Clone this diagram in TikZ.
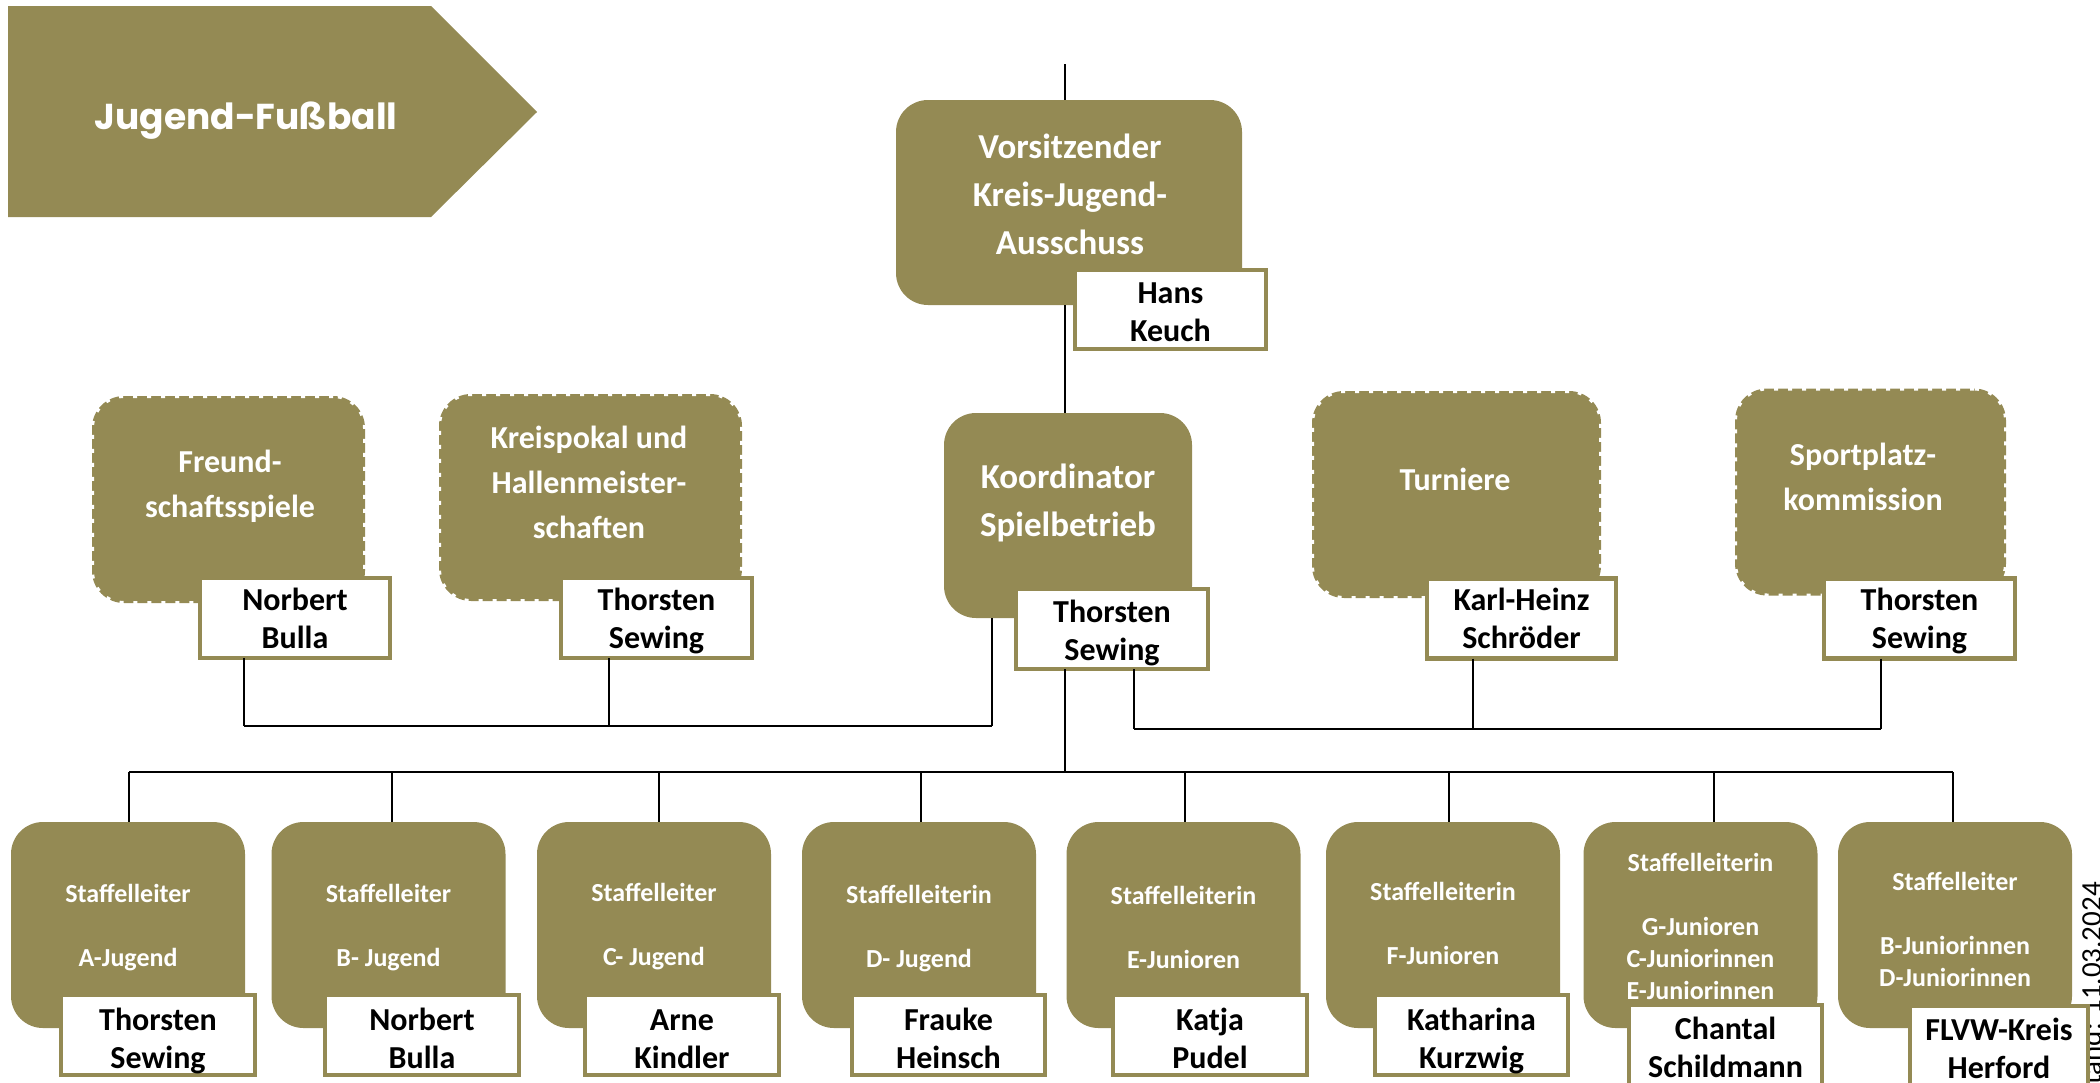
\documentclass[tikz,border=0pt]{standalone}
\usepackage{fontspec}
\setmainfont{Carlito}
\newfontfamily\titlefont{Poppins}
\definecolor{oliv}{HTML}{948A54}
\newcommand{\mlines}[1]{\begin{tabular}[t]{@{}c@{}}#1\end{tabular}}
\begin{document}
\begin{tikzpicture}[x=1pt,y=-1pt,
 obox/.style={fill=oliv, rounded corners=32pt, inner sep=0pt, outer sep=0pt},
 dbox/.style={obox, draw=white, line width=4pt, dash pattern=on 4pt off 10pt},
 nbox/.style={fill=white, draw=oliv, line width=4.5pt, inner sep=0pt, outer sep=0pt},
 wbig/.style={text=white, anchor=base, inner sep=0pt, font=\bfseries\fontsize{35}{48}\selectfont},
 wmid/.style={text=white, anchor=base, inner sep=0pt, font=\bfseries\fontsize{32}{45}\selectfont},
 wsmall/.style={text=white, anchor=base, inner sep=0pt, font=\bfseries\fontsize{26}{32}\selectfont},
 ntxt/.style={text=black, anchor=base, inner sep=0pt, font=\bfseries\fontsize{32}{38}\selectfont},
 conn/.style={line width=2pt, black},
 bar/.style={line width=2.8pt, black}]
\useasboundingbox (0,0) rectangle (2100,1082);

% title arrow
\fill[oliv] (8,6) -- (431,6) -- (537,112) -- (431,217) -- (8,217) -- cycle;
\node[anchor=base, inner sep=0pt, text=white, font=\titlefont\bfseries\fontsize{36}{42}\selectfont] (title) at (246,129) {Jugend-Fußball};

% upper boxes
\node[obox, minimum width=346pt, minimum height=205pt] (vors) at (1069,202.5) {};
\node[obox, minimum width=248pt, minimum height=205pt] (koord) at (1068,515.5) {};
\node[dbox, minimum width=273pt, minimum height=207pt] (freund) at (228.5,499.5) {};
\node[dbox, minimum width=303pt, minimum height=207pt] (pokal) at (590.5,497.5) {};
\node[dbox, minimum width=289pt, minimum height=207pt] (turn) at (1456.5,494.5) {};
\node[dbox, minimum width=271pt, minimum height=207pt] (sport) at (1870.5,492) {};

\node[wbig] (tvors) at (1070,158) {\mlines{Vorsitzender\\Kreis-Jugend-\\Ausschuss}};
\node[wbig] (tkoord) at (1068,488) {\mlines{Koordinator\\Spielbetrieb}};
\node[wmid] (tfreund) at (230,472) {\mlines{Freund-\\schaftsspiele}};
\node[wmid] (tpokal) at (589,448) {\mlines{Kreispokal und\\Hallenmeister-\\schaften}};
\node[wmid] (tturn) at (1455,490) {Turniere};
\node[wmid] (tsport) at (1863,465) {\mlines{Sportplatz-\\kommission}};

% upper name boxes
\node[nbox, minimum width=191pt, minimum height=79pt] (nhans) at (1170.5,309.5) {};
\node[nbox, minimum width=192pt, minimum height=80pt] (nkoord) at (1112,629) {};
\node[nbox, minimum width=190pt, minimum height=80pt] (nfreund) at (295,618) {};
\node[nbox, minimum width=191pt, minimum height=80pt] (npokal) at (656.5,618) {};
\node[nbox, minimum width=189pt, minimum height=80pt] (nturn) at (1521.5,618.5) {};
\node[nbox, minimum width=191pt, minimum height=80pt] (nsport) at (1919.5,618.5) {};

\node[ntxt] (thans) at (1170.5,303) {\mlines{Hans\\Keuch}};
\node[ntxt] (tnkoord) at (1112,622) {\mlines{Thorsten\\Sewing}};
\node[ntxt] (tnfreund) at (295,610) {\mlines{Norbert\\Bulla}};
\node[ntxt] (tnpokal) at (656.5,610) {\mlines{Thorsten\\Sewing}};
\node[ntxt] (tnturn) at (1521.5,610) {\mlines{Karl-Heinz\\Schröder}};
\node[ntxt] (tnsport) at (1919.5,610) {\mlines{Thorsten\\Sewing}};

% connectors upper part
\coordinate (topend) at (1065,64);
\draw[conn] (topend) -- (topend |- vors.north);
\draw[conn] (topend |- vors.south) -- (topend |- koord.north);

\coordinate (lb1) at (244,726);
\coordinate (lb2) at (609,726);
\coordinate (lb3) at (992,726);
\draw[conn] (lb1 |- nfreund.south) -- (lb1);
\draw[conn] (lb2 |- npokal.south) -- (lb2);
\draw[conn] (lb3 |- koord.south) -- (lb3);
\draw[bar] (lb1) -- (lb3);

\coordinate (rb1) at (1134,729);
\coordinate (rb2) at (1473,729);
\coordinate (rb3) at (1881,729);
\draw[conn] (rb1 |- nkoord.south) -- (rb1);
\draw[conn] (rb2 |- nturn.south) -- (rb2);
\draw[conn] (rb3 |- nsport.south) -- (rb3);
\draw[bar] (rb1) -- (rb3);

% bottom row boxes
\foreach \c/\n in {128/s1,388.5/s2,654/s3,919/s4,1183.5/s5,1443/s6,1700.5/s7,1955/s8}{
  \node[obox, minimum width=234pt, minimum height=206pt] (\n) at (\c,925) {};
}
\node[wsmall] (ts1) at (128,902) {\mlines{Staffelleiter\\ \\A-Jugend}};
\node[wsmall] (ts2) at (388.5,902) {\mlines{Staffelleiter\\ \\B- Jugend}};
\node[wsmall] (ts3) at (654,901) {\mlines{Staffelleiter\\ \\C- Jugend}};
\node[wsmall] (ts4) at (919,903) {\mlines{Staffelleiterin\\ \\D- Jugend}};
\node[wsmall] (ts5) at (1183.5,904) {\mlines{Staffelleiterin\\ \\E-Junioren}};
\node[wsmall] (ts6) at (1443,900) {\mlines{Staffelleiterin\\ \\F-Junioren}};
\node[wsmall] (ts7) at (1700.5,871) {\mlines{Staffelleiterin\\ \\G-Junioren\\C-Juniorinnen\\E-Juniorinnen}};
\node[wsmall] (ts8) at (1955,890) {\mlines{Staffelleiter\\ \\B-Juniorinnen\\D-Juniorinnen}};

% date text (partly covered)
\node[rotate=90, anchor=base east, inner sep=0pt, font=\fontsize{29}{32}\selectfont] (date) at (2101,882) {Stand: 11.03.2024};

% bottom name boxes
\node[nbox, minimum width=194pt, minimum height=80pt] (n1) at (158,1035) {};
\node[nbox, minimum width=194pt, minimum height=80pt] (n2) at (422,1035) {};
\node[nbox, minimum width=194pt, minimum height=80pt] (n3) at (682,1035) {};
\node[nbox, minimum width=193pt, minimum height=80pt] (n4) at (948.5,1035) {};
\node[nbox, minimum width=194pt, minimum height=80pt] (n5) at (1210,1035) {};
\node[nbox, minimum width=193pt, minimum height=80pt] (n6) at (1471.5,1035) {};
\node[nbox, minimum width=193pt, minimum height=90pt] (n7) at (1725.5,1050) {};
\node[nbox, minimum width=178pt, minimum height=90pt] (n8) at (1999,1051) {};

\node[ntxt] (tn1) at (158,1030) {\mlines{Thorsten\\Sewing}};
\node[ntxt] (tn2) at (422,1030) {\mlines{Norbert\\Bulla}};
\node[ntxt] (tn3) at (682,1030) {\mlines{Arne\\Kindler}};
\node[ntxt] (tn4) at (948.5,1030) {\mlines{Frauke\\Heinsch}};
\node[ntxt] (tn5) at (1210,1030) {\mlines{Katja\\Pudel}};
\node[ntxt] (tn6) at (1471.5,1030) {\mlines{Katharina\\Kurzwig}};
\node[ntxt] (tn7) at (1725.5,1039) {\mlines{Chantal\\Schildmann}};
\node[ntxt] (tn8) at (1999,1040) {\mlines{FLVW-Kreis\\Herford}};

% main distribution bar
\coordinate (mb) at (1065,772);
\draw[conn] (mb |- nkoord.south) -- (mb);
\foreach \x/\n in {129/s1,392/s2,659/s3,921/s4,1185/s5,1449/s6,1714/s7,1953/s8}{
  \draw[conn] (\x,772) -- (\x,772 |- \n.north);
}
\draw[bar] (129,772) -- (1953,772);
\end{tikzpicture}
\end{document}
